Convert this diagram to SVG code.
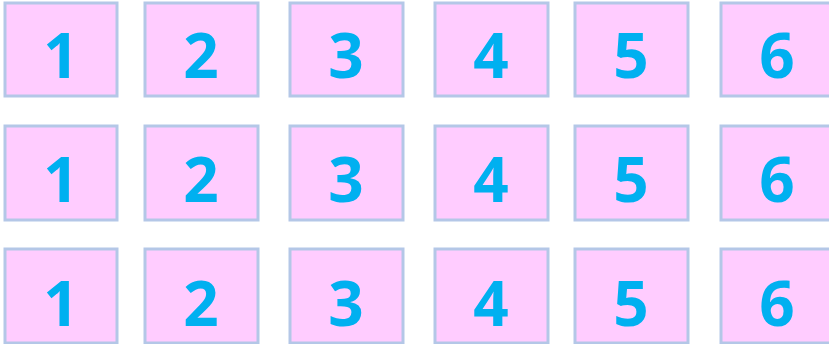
<svg xmlns="http://www.w3.org/2000/svg" width="829" height="344" viewBox="0 0 829 344">
<style>
.b rect{fill:#FFCCFF;stroke:#B4C7E7;stroke-width:3}
.b text{font-family:"Noto Sans","Open Sans","Liberation Sans",sans-serif;font-weight:bold;font-size:62px;fill:#00B0F0;text-anchor:middle}
</style>
<rect width="829" height="344" fill="#fff"/>
<g class="b">
<g id="r1n1"><rect x="5" y="3" width="112" height="93"/><text x="61" y="78">1</text></g>
<g id="r1n2"><rect x="145" y="3" width="113" height="93"/><text x="201" y="78">2</text></g>
<g id="r1n3"><rect x="290" y="3" width="113" height="93"/><text x="346" y="78">3</text></g>
<g id="r1n4"><rect x="435" y="3" width="113" height="93"/><text x="491" y="78">4</text></g>
<g id="r1n5"><rect x="575" y="3" width="113" height="93"/><text x="631" y="78">5</text></g>
<g id="r1n6"><rect x="721" y="3" width="113" height="93"/><text x="777" y="78">6</text></g>
<g id="r2n1"><rect x="5" y="126" width="112" height="94"/><text x="61" y="202">1</text></g>
<g id="r2n2"><rect x="145" y="126" width="113" height="94"/><text x="201" y="202">2</text></g>
<g id="r2n3"><rect x="290" y="126" width="113" height="94"/><text x="346" y="202">3</text></g>
<g id="r2n4"><rect x="435" y="126" width="113" height="94"/><text x="491" y="202">4</text></g>
<g id="r2n5"><rect x="575" y="126" width="113" height="94"/><text x="631" y="202">5</text></g>
<g id="r2n6"><rect x="721" y="126" width="113" height="94"/><text x="777" y="202">6</text></g>
<g id="r3n1"><rect x="5" y="249" width="112" height="94"/><text x="61" y="326">1</text></g>
<g id="r3n2"><rect x="145" y="249" width="113" height="94"/><text x="201" y="326">2</text></g>
<g id="r3n3"><rect x="290" y="249" width="113" height="94"/><text x="346" y="326">3</text></g>
<g id="r3n4"><rect x="435" y="249" width="113" height="94"/><text x="491" y="326">4</text></g>
<g id="r3n5"><rect x="575" y="249" width="113" height="94"/><text x="631" y="326">5</text></g>
<g id="r3n6"><rect x="721" y="249" width="113" height="94"/><text x="777" y="326">6</text></g>
</g>
<g id="connectors"/>
</svg>
